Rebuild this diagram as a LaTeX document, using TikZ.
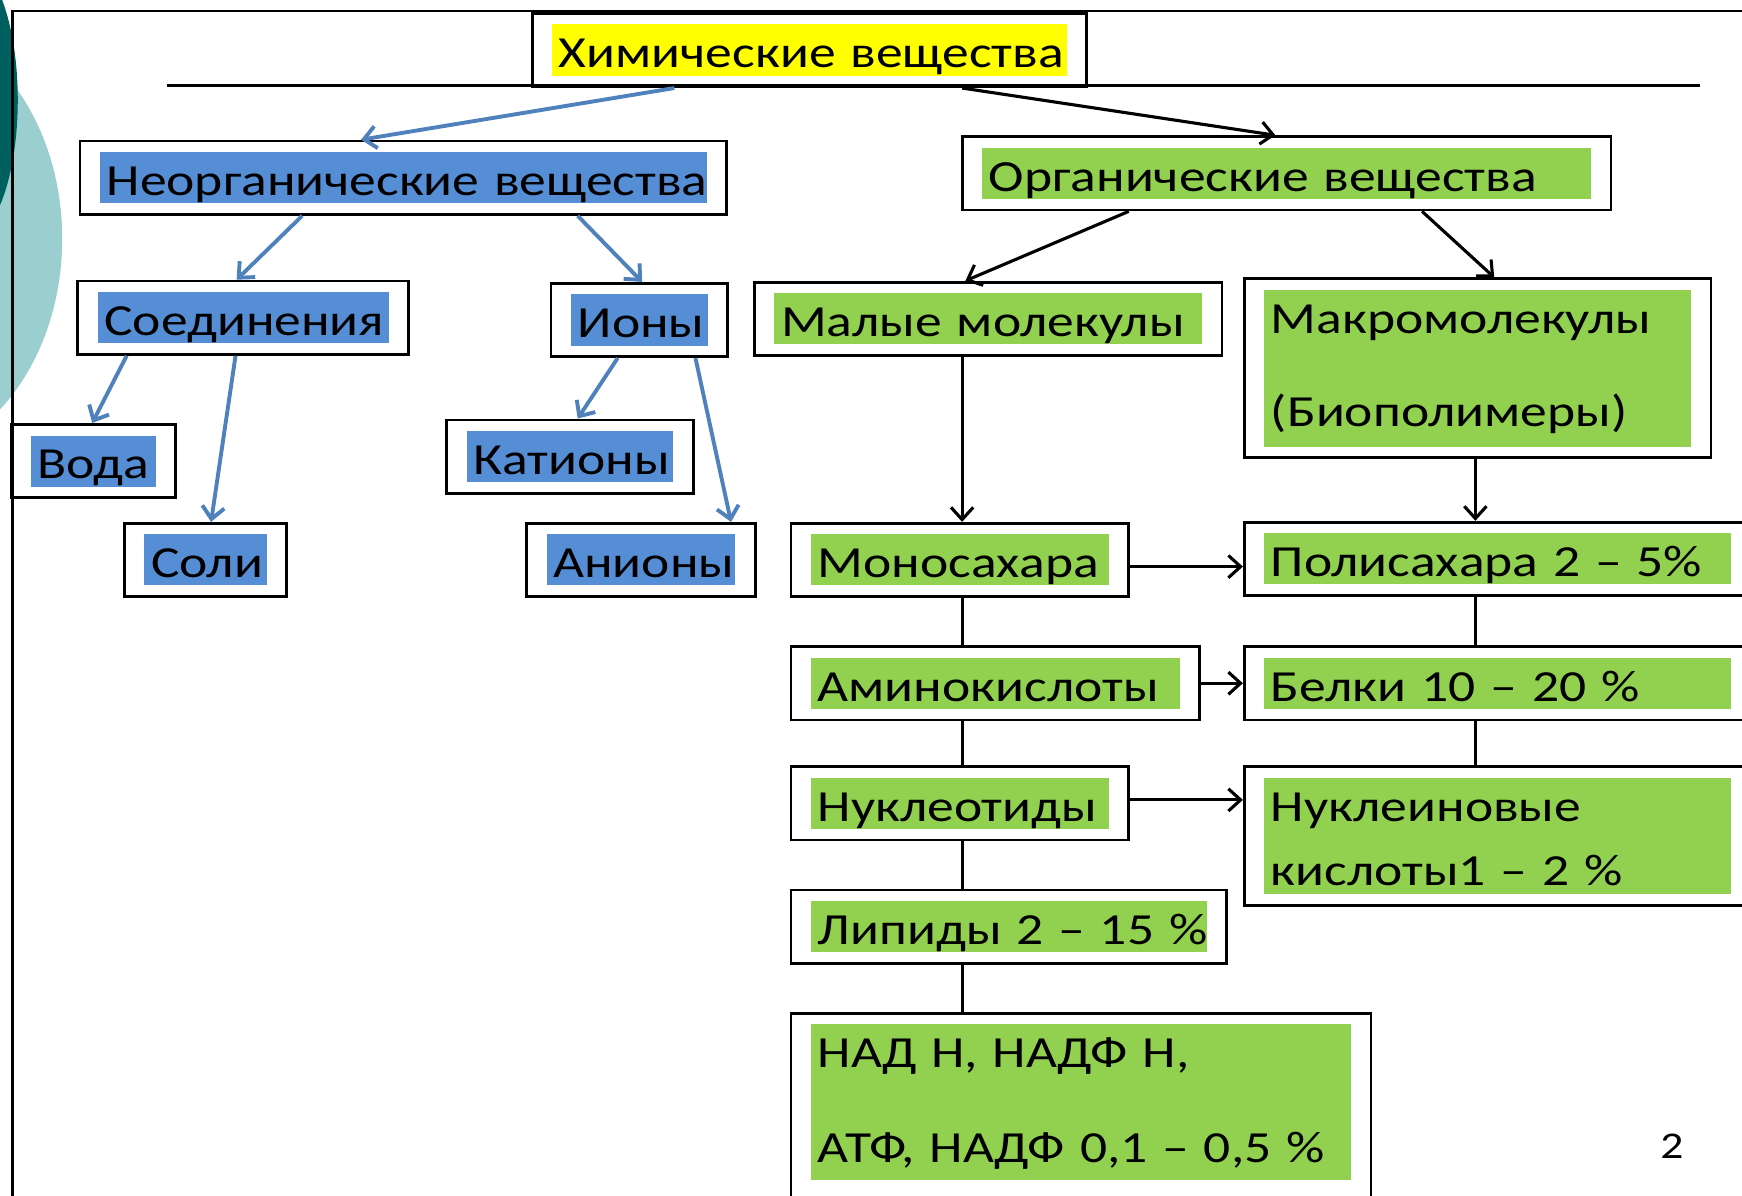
\documentclass[tikz,border=0pt]{standalone}
\usepackage{fontspec}
\setmainfont{Carlito}[FakeStretch=1.205, WordSpace=0.85]
\usetikzlibrary{arrows.meta,positioning,fit,calc}
\definecolor{hlblue}{RGB}{85,142,213}
\definecolor{hlgreen}{RGB}{146,208,80}
\definecolor{hlyellow}{RGB}{255,255,0}
\definecolor{arrblue}{RGB}{79,129,189}
\definecolor{tealdark}{RGB}{0,96,96}
\definecolor{teallight}{RGB}{155,206,206}

\begin{document}
\begin{tikzpicture}[x=1pt, y=-1pt,
  every node/.style={font=\fontsize{40}{48}\selectfont},
  hl/.style={anchor=north west, inner xsep=6pt, inner ysep=0pt, outer sep=0pt,
    align=left, text height=39pt, text depth=7pt},
  blu/.style={hl, fill=hlblue},
  grn/.style={hl, fill=hlgreen},
  boxframe/.style={draw, line width=2.5pt, inner xsep=18pt, inner ysep=10pt},
  barrow/.style={draw=arrblue, line width=3.5pt, -{Straight Barb[length=11pt,width=20pt]}},
  karrow/.style={line width=2.8pt, -{Straight Barb[length=11pt,width=20pt]}},
  kline/.style={line width=2.8pt}]
\useasboundingbox (0,0) rectangle (1568,1076);
\clip (0,0) rectangle (1568,1076);

% slide decoration
\fill[teallight] (-100,215) ellipse [x radius=156pt, y radius=200pt];
\fill[tealdark] (-30,90) ellipse [x radius=46pt, y radius=125pt];
\draw[line width=2.5pt] (11,1100) -- (11,10) -- (1600,10);
\coordinate (rl) at (150,77);
\coordinate (rr) at (1530,77);
\draw[line width=2pt] (rl) -- (rr);

% highlighted labels
\node[hl, fill=hlyellow, text width=451pt] (title) at (497,22) {Химические~вещества};
\node[blu, text width=534pt] (neorg) at (90,137) {Неорганические~вещества};
\node[grn, text width=536pt] (org) at (884,133) {Органические~вещества};
\node[blu, text width=250pt] (soed) at (88,263) {Соединения};
\node[blu, text width=111pt] (iony) at (514,265) {Ионы};
\node[grn, text width=373pt] (malye) at (697,264) {Малые~молекулы};
\node[grn, text width=372pt, text depth=102pt, font=\fontsize{40}{84}\selectfont] (makro) at (1138,261) {Макромолекулы\\(Биополимеры)};
\node[blu, text width=100pt] (voda) at (28,392) {Вода};
\node[blu, text width=174pt] (kat) at (420,388) {Катионы};
\node[blu, text width=98pt] (soli) at (130,481) {Соли};
\node[blu, text width=158pt] (anion) at (492,481) {Анионы};
\node[grn, text width=256pt] (mono) at (730,481) {Моносахара};
\node[grn, text width=408pt] (poli) at (1138,480) {\mbox{Полисахара 2 – 5\%}};
\node[grn, text width=320pt] (amino) at (730,592) {Аминокислоты};
\node[grn, text width=408pt] (belki) at (1138,592) {\mbox{Белки 10 – 20 \%}};
\node[grn, text width=256pt] (nukl) at (730,700) {Нуклеотиды};
\node[grn, text width=408pt, text depth=66pt, font=\fontsize{40}{58}\selectfont] (nukk) at (1138,700) {Нуклеиновые\\\mbox{кислоты1 – 2 \%}};
\node[grn, text width=344pt] (lip) at (730,811) {\mbox{Липиды 2 – 15 \%}};
\node[grn, text width=474pt, text depth=101pt, font=\fontsize{40}{85}\selectfont] (nad) at (730,922) {\mbox{НАД Н, НАДФ Н,}\\\mbox{АТФ, НАДФ 0,1 – 0,5 \%}};

% frames round the labels
\foreach \n in {title,neorg,org,soed,iony,malye,makro,voda,kat,soli,anion,mono,poli,amino,belki,nukl,nukk,lip}
  \node[boxframe, fit=(\n)] (\n-f) {};
\coordinate (nadlow) at (973,1110);
\node[boxframe, fit=(nad) (nadlow)] (nad-f) {};

% inorganic branch
\draw[barrow] ([xshift=-121.5pt]title-f.south) -- ([xshift=-38pt]neorg-f.north);
\draw[barrow] ([xshift=-91pt]neorg-f.south) -- ([xshift=-6pt]soed-f.north);
\draw[barrow] ([xshift=157pt]neorg-f.south) -- ([xshift=2.5pt]iony-f.north);
\draw[barrow] ([xshift=-105pt]soed-f.south) -- ([xshift=-1pt]voda-f.north);
\draw[barrow] ([xshift=-7pt]soed-f.south) -- ([xshift=5pt]soli-f.north);
\draw[barrow] ([xshift=-19.5pt]iony-f.south) -- ([xshift=7pt]kat-f.north);
\draw[barrow] ([xshift=50.5pt]iony-f.south) -- ([xshift=81pt]anion-f.north);

% organic branch
\draw[karrow] ([xshift=137.5pt]title-f.south) -- ([xshift=-10pt]org-f.north);
\draw[karrow] ([xshift=-142pt]org-f.south) -- ([xshift=-20.5pt]malye-f.north);
\draw[karrow] ([xshift=122pt]org-f.south) -- ([xshift=15pt]makro-f.north);
\draw[karrow] ([xshift=-23.5pt]malye-f.south) coordinate (ml) -- (ml |- mono-f.north);
\draw[karrow] ([xshift=-2pt]makro-f.south) coordinate (mr) -- (mr |- poli-f.north);
\foreach \a/\b in {mono/amino, amino/nukl, nukl/lip, lip/nad}
  \draw[kline] (ml |- \a-f.south) -- (ml |- \b-f.north);
\foreach \a/\b in {poli/belki, belki/nukk}
  \draw[kline] (mr |- \a-f.south) -- (mr |- \b-f.north);
\draw[karrow] ([yshift=-6pt]mono-f.east) coordinate (me) -- (me -| poli-f.west);
\draw[karrow] (amino-f.east) -- (amino-f.east -| belki-f.west);
\draw[karrow] ([yshift=3pt]nukl-f.east) coordinate (ne) -- (ne -| nukk-f.west);

\node[font=\fontsize{34}{40}\selectfont] (pnum) at (1505,1032) {2};
\end{tikzpicture}
\end{document}
